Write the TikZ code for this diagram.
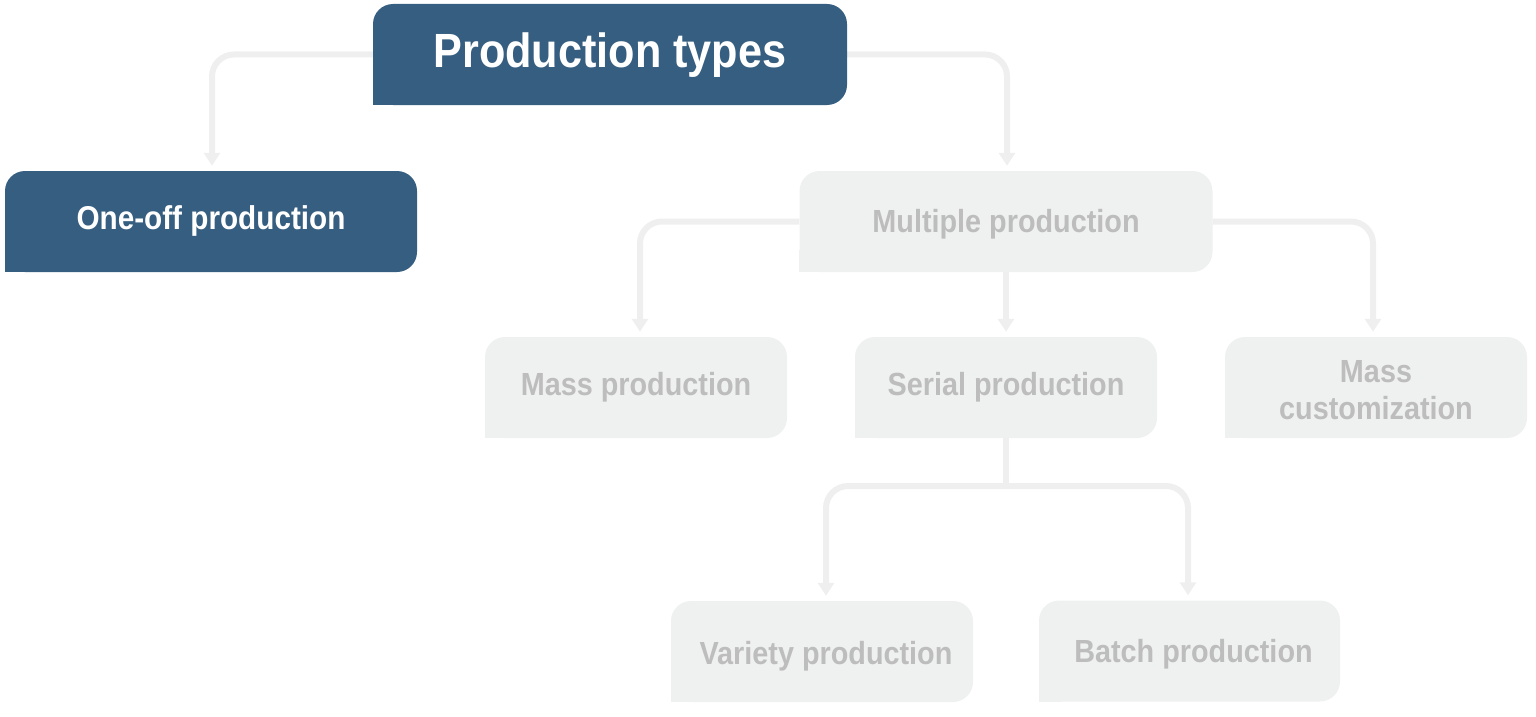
\documentclass[tikz,border=0pt]{standalone}
\usepackage{fontspec}
\setmainfont{Liberation Sans}
\usetikzlibrary{arrows.meta}
\definecolor{dblue}{HTML}{365E80}
\definecolor{lgray}{HTML}{EFF0F0}
\definecolor{tgray}{HTML}{BDBDBD}
\definecolor{conn}{HTML}{EFEFEF}
\newcommand{\nar}[2][0pt]{\smash{\raisebox{\dimexpr-0.358em+#1\relax}{\scalebox{0.9}[1]{#2}}}}
\pgfdeclarelayer{bg}
\pgfsetlayers{bg,main}
\tikzset{
  box/.style={rounded corners=20pt, inner sep=0pt, minimum height=101pt, align=center},
  darkbox/.style={box, fill=dblue, text=white},
  lightbox/.style={box, fill=lgray, text=tgray, minimum width=302pt, font=\fontsize{32}{38}\selectfont\bfseries},
  conn/.style={draw=conn, line width=6pt, rounded corners=22pt},
  arr/.style={conn, -{Triangle[width=16pt,length=13pt]}, shorten >=5pt},
}
\begin{document}
\begin{tikzpicture}[x=1pt,y=-1pt]
\useasboundingbox (0,0) rectangle (1536,717);
\node[darkbox, minimum width=474pt, font=\fontsize{48}{56}\selectfont\bfseries] (pt) at (610,54.5) {\nar[4pt]{Production types}};
\node[darkbox, minimum width=412pt, font=\fontsize{33}{38}\selectfont\bfseries] (one) at (211,221.5) {\nar[3.5pt]{One-off production}};
\node[lightbox, minimum width=413pt] (mult) at (1006,221.5) {\nar{Multiple production}};
\node[lightbox] (mass) at (636,387.5) {\nar[3.5pt]{Mass production}};
\node[lightbox] (serial) at (1006,387.5) {\nar[3.5pt]{Serial production}};
\node[lightbox] (cust) at (1376,387.5) {\nar[-2.5pt]{Mass}\\[-1pt]\nar[-2.5pt]{customization}};
\node[lightbox] (var) at (822,651.5) {\hspace*{8pt}\nar[-2pt]{Variety production}};
\node[lightbox, minimum width=301pt] (batch) at (1189.5,651) {\hspace*{8pt}\nar{Batch production}};
% square bottom-left corners
\fill[dblue] (pt.south west) rectangle ++(22,-22);
\fill[dblue] (one.south west) rectangle ++(22,-22);
\foreach \n in {mult,mass,serial,cust,var,batch}{
  \fill[lgray] (\n.south west) rectangle ++(22,-22);
}
\coordinate (j) at (1006,486);
\begin{pgfonlayer}{bg}
\draw[arr] (pt.west) -| ([xshift=1pt]one.north);
\draw[arr] (pt.east) -| ([xshift=1pt]mult.north);
\draw[arr] (mult.west) -| ([xshift=4pt]mass.north);
\draw[arr] (mult.south) -- (serial.north);
\draw[arr] (mult.east) -| ([xshift=-3pt]cust.north);
\draw[conn] (serial.south) -- (j);
\draw[arr] (j) -| ([xshift=4pt]var.north);
\draw[arr] (j) -| ([xshift=-1.5pt]batch.north);
\end{pgfonlayer}
\end{tikzpicture}
\end{document}
